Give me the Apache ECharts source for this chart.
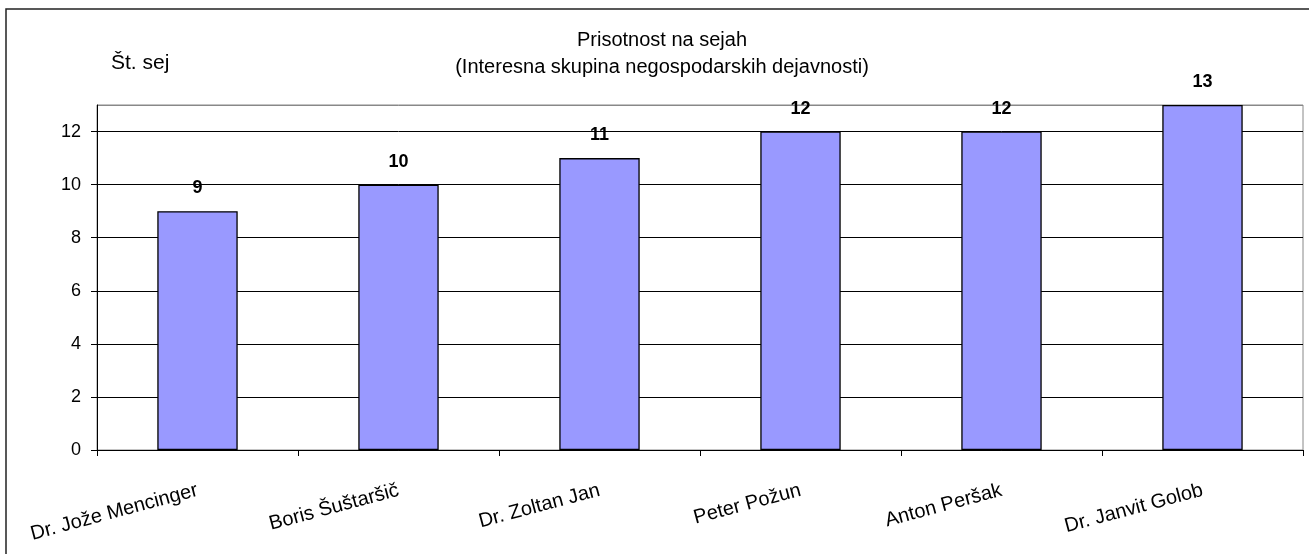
<!DOCTYPE html>
<html>
<head>
<meta charset="utf-8">
<script src="https://cdn.jsdelivr.net/npm/echarts@6/dist/echarts.min.js"></script>
<style>
    html, body { margin: 0; padding: 0; background: #fff; }
    #myChart { width: 1309px; height: 554px; }
</style>
</head>
<body>
<div id="myChart"></div>
<script>
    // podatki
    var names = ['Dr. Jože Mencinger', 'Boris Šuštaršič', 'Dr. Zoltan Jan', 'Peter Požun', 'Anton Peršak', 'Dr. Janvit Golob']
    var sessions = [9, 10, 11, 12, 12, 13]
    var titleLines = ['Prisotnost na sejah', '(Interesna skupina negospodarskih dejavnosti)']
    var yName = 'Št. sej'

    var font = '"Liberation Sans", Arial, sans-serif'
    var myChart = echarts.init(document.getElementById('myChart'))

    myChart.setOption({
        animation: false,
        textStyle: { fontFamily: font },
        graphic: [
            {
                type: 'rect',
                shape: { x: 6, y: 9, width: 1400, height: 600 },
                style: { fill: 'none', stroke: '#222', lineWidth: 1.5 },
                z: 0
            },
            {
                type: 'text',
                style: {
                    x: 662, y: 40, text: titleLines[0], textAlign: 'center', textVerticalAlign: 'middle',
                    fontSize: 20, fontFamily: font, fill: '#000'
                }
            },
            {
                type: 'text',
                style: {
                    x: 662, y: 67, text: titleLines[1], textAlign: 'center', textVerticalAlign: 'middle',
                    fontSize: 20, fontFamily: font, fill: '#000'
                }
            },
            {
                type: 'text',
                style: {
                    x: 111, y: 63, text: yName, textVerticalAlign: 'middle',
                    fontSize: 21, fontFamily: font, fill: '#000'
                }
            }
        ],
        grid: {
            left: 97, right: 6, top: 105, bottom: 104,
            show: true, borderColor: '#888', borderWidth: 1
        },
        xAxis: {
            type: 'category',
            data: names,
            axisLine: { lineStyle: { color: '#000', width: 1 } },
            axisTick: { show: true, length: 6, alignWithLabel: false, lineStyle: { color: '#000' } },
            axisLabel: {
                interval: 0,
                rotate: 15,
                margin: 40,
                fontSize: 20,
                color: '#000',
                fontFamily: font
            }
        },
        yAxis: {
            type: 'value',
            min: 0,
            max: 13,
            interval: 2,
            axisLine: { show: true, lineStyle: { color: '#000', width: 1 } },
            axisTick: { show: true, length: 6, lineStyle: { color: '#000' } },
            axisLabel: { fontSize: 18, color: '#000', margin: 16, showMaxLabel: false, fontFamily: font },
            splitLine: {
                show: true,
                lineStyle: { color: ['#000', '#000', '#000', '#000', '#000', '#000', '#000', '#888'], width: 1 }
            }
        },
        series: [{
            type: 'bar',
            data: sessions,
            barWidth: '40%',
            itemStyle: { color: '#9999FF', borderColor: '#000', borderWidth: 1.3 },
            label: {
                show: true,
                position: 'top',
                distance: 14,
                fontSize: 18,
                fontWeight: 'bold',
                color: '#000',
                fontFamily: font
            }
        }]
    })
</script>
</body>
</html>
